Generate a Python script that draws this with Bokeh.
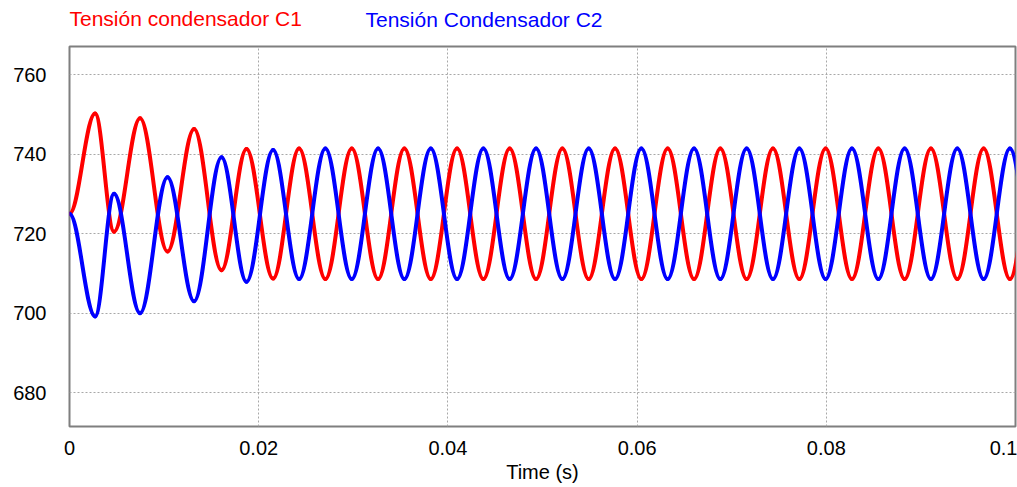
import numpy as np
from bokeh.plotting import figure
from bokeh.models import Range1d, FixedTicker, Label
from bokeh.embed import file_html
from bokeh.resources import INLINE

# ---- data (times of successive extrema, s) ----
t_ext = [0.0, 0.00271, 0.00471, 0.00746, 0.01036, 0.01317, 0.01607, 0.01871,
         0.02152, 0.02427, 0.02705, 0.02984, 0.03262, 0.03540, 0.03819, 0.04097,
         0.04375, 0.04653, 0.04932, 0.05210, 0.05488, 0.05767, 0.06045, 0.06323,
         0.06602, 0.06880, 0.07158, 0.07436, 0.07715, 0.07993, 0.08271, 0.08550,
         0.08828, 0.09106, 0.09385, 0.09663, 0.09941, 0.10220]

# Tensión condensador C1 (V) at those extrema
v_c1 = [725.0, 750.2, 720.5, 749.0, 715.5, 746.3, 710.8, 741.3,
        708.7, 741.4, 708.6, 741.4, 708.6, 741.4, 708.6, 741.4,
        708.6, 741.4, 708.6, 741.4, 708.6, 741.4, 708.6, 741.4,
        708.6, 741.4, 708.6, 741.4, 708.6, 741.4, 708.6, 741.4,
        708.6, 741.4, 708.6, 741.4, 708.6, 741.4]

# Tensión Condensador C2 (V) at those extrema
v_c2 = [725.0, 699.2, 730.0, 700.0, 734.2, 703.0, 739.2, 707.9,
        741.0, 708.6, 741.4, 708.6, 741.4, 708.6, 741.4, 708.6,
        741.4, 708.6, 741.4, 708.6, 741.4, 708.6, 741.4, 708.6,
        741.4, 708.6, 741.4, 708.6, 741.4, 708.6, 741.4, 708.6,
        741.4, 708.6, 741.4, 708.6, 741.4, 708.6]

series_names = ["Tensión condensador C1", "Tensión Condensador C2"]
series_colors = ["#ff0000", "#0000ff"]

x_ticks = [0, 0.02, 0.04, 0.06, 0.08, 0.1]
x_tick_labels = ["0", "0.02", "0.04", "0.06", "0.08", "0.1"]
y_ticks = [680, 700, 720, 740, 760]
y_tick_labels = ["680", "700", "720", "740", "760"]
x_label = "Time (s)"

FONT = "Liberation Sans"

p = figure(width=1017, height=487, output_backend="svg", toolbar_location=None,
           x_range=Range1d(0, 0.1), y_range=Range1d(671.53, 767.04),
           min_border_left=69, min_border_right=2, min_border_top=43,
           min_border_bottom=61)
p.background_fill_color = "white"
p.border_fill_color = "white"
p.outline_line_color = "#7f7f7f"
p.outline_line_width = 2

for g in (p.xgrid[0], p.ygrid[0]):
    g.grid_line_color = "#a8a8a8"
    g.grid_line_dash = "2 2"
    g.grid_line_width = 1

p.xaxis.ticker = FixedTicker(ticks=x_ticks)
p.xaxis.major_label_overrides = {k: v for k, v in zip(x_ticks, x_tick_labels)}
p.yaxis.ticker = FixedTicker(ticks=y_ticks)
p.yaxis.major_label_overrides = {k: v for k, v in zip(y_ticks, y_tick_labels)}
p.xaxis.axis_label = x_label

for ax in (p.xaxis[0], p.yaxis[0]):
    ax.axis_line_color = None
    ax.major_tick_line_color = None
    ax.minor_tick_line_color = None
    ax.major_tick_in = 0
    ax.major_tick_out = 0
    ax.minor_tick_in = 0
    ax.minor_tick_out = 0
    ax.major_label_text_font = FONT
    ax.major_label_text_font_size = "20px"
    ax.major_label_text_color = "#000000"
    ax.axis_label_text_font = FONT
    ax.axis_label_text_font_size = "20px"
    ax.axis_label_text_font_style = "normal"
    ax.axis_label_text_color = "#000000"

p.yaxis.major_label_standoff = 23
p.xaxis.major_label_standoff = 14
p.xaxis.axis_label_standoff = 3

t = np.array(t_ext)
c = 0.364
for vals, col in zip((v_c1, v_c2), series_colors):
    v = np.array(vals)
    x0, x1 = t[:-1], t[1:]
    dx = x1 - x0
    p.bezier(x0=x0, y0=v[:-1], x1=x1, y1=v[1:],
             cx0=x0 + c * dx, cy0=v[:-1], cx1=x1 - c * dx, cy1=v[1:],
             line_color=col, line_width=4, line_cap="round")

label_x = [0, 296]
label_y = [28, 4]
for name, col, lx, ly in zip(series_names, series_colors, label_x, label_y):
    p.add_layout(Label(x=lx, y=ly, x_units="screen", y_units="screen",
                       text=name, text_color=col, text_font=FONT,
                       text_font_size="21px", text_baseline="alphabetic"),
                 "above")

open("out.html", "w").write(file_html(p, INLINE))
